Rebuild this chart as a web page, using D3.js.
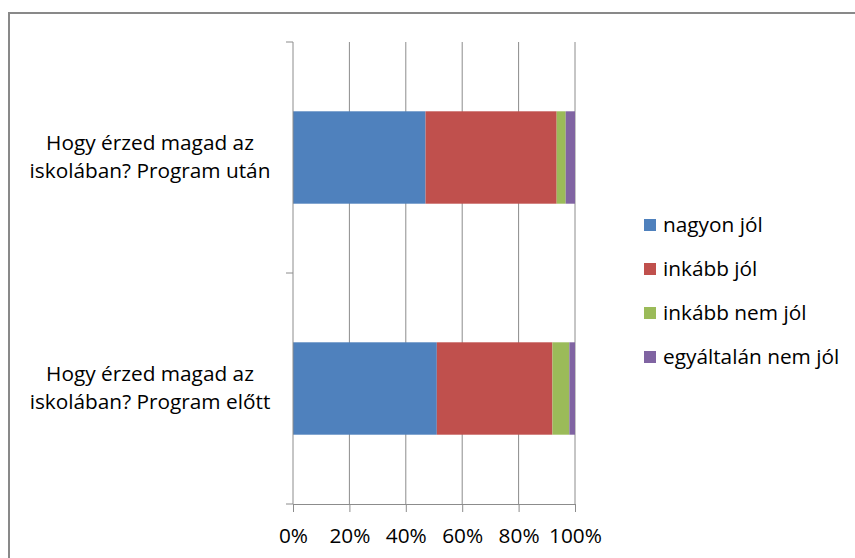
<!DOCTYPE html>
<html>
<head>
<meta charset="utf-8">
<script src="https://cdn.jsdelivr.net/npm/d3@7"></script>
<style>
  body { margin: 0; background: #fff; }
  text { font-family: "Open Sans", Lato, sans-serif; fill: #000; }
</style>
</head>
<body>
<svg id="chart" width="855" height="558"></svg>
<script>
// data (shares, top row first)
const categories = [
  ["Hogy érzed magad az", "iskolában? Program után"],
  ["Hogy érzed magad az", "iskolában? Program előtt"],
];
const seriesNames = ["nagyon jól", "inkább jól", "inkább nem jól", "egyáltalán nem jól"];
const nagyonJol = [0.47, 0.51];
const inkabbJol = [0.465, 0.41];
const inkabbNemJol = [0.032, 0.06];
const egyaltalanNemJol = [0.033, 0.02];
const xTicks = [0, 0.2, 0.4, 0.6, 0.8, 1];
const colors = ["#4F81BD", "#C0504D", "#9BBB59", "#8064A2"];

const svg = d3.select("#chart");
const margin = { top: 42, left: 293, right: 575, bottom: 504 };
const fontSize = 20.8;

// outer frame
svg.append("rect")
  .attr("x", 9).attr("y", 13)
  .attr("width", 900).attr("height", 600)
  .attr("fill", "none")
  .attr("stroke", "#898989")
  .attr("stroke-width", 2);

const x = d3.scaleLinear().domain([0, 1]).range([margin.left, margin.right]);
const y = d3.scaleBand()
  .domain(d3.range(categories.length))
  .range([margin.top, margin.bottom])
  .padding(0);

// grid lines
svg.append("g")
  .selectAll("line")
  .data(xTicks.slice(1))
  .join("line")
  .attr("x1", d => x(d)).attr("x2", d => x(d))
  .attr("y1", margin.top).attr("y2", margin.bottom)
  .attr("stroke", "#8c8c8c")
  .attr("stroke-width", 1);

// stacked bars
const rows = categories.map((c, i) => ({
  i,
  vals: [nagyonJol[i], inkabbJol[i], inkabbNemJol[i], egyaltalanNemJol[i]],
}));
const stack = d3.stack().keys([0, 1, 2, 3]).value((d, k) => d.vals[k]);
const layers = stack(rows);

const bw = y.bandwidth();
svg.append("g")
  .selectAll("g")
  .data(layers)
  .join("g")
  .attr("fill", (d, k) => colors[k])
  .selectAll("rect")
  .data(d => d)
  .join("rect")
  .attr("x", d => x(d[0]))
  .attr("width", d => x(d[1]) - x(d[0]))
  .attr("y", d => y(d.data.i) + bw * 0.3)
  .attr("height", bw * 0.4);

// y axis line and ticks at band edges
const yAxis = svg.append("g");
yAxis.append("line")
  .attr("x1", margin.left).attr("x2", margin.left)
  .attr("y1", margin.top).attr("y2", margin.bottom)
  .attr("stroke", "#8c8c8c");
const edges = d3.range(categories.length + 1).map(i => margin.top + i * y.step());
yAxis.selectAll("line.tick")
  .data(edges)
  .join("line")
  .attr("class", "tick")
  .attr("x1", margin.left - 7).attr("x2", margin.left)
  .attr("y1", d => d).attr("y2", d => d)
  .attr("stroke", "#8c8c8c");

// category labels
svg.append("g")
  .selectAll("text")
  .data(categories)
  .join("text")
  .attr("text-anchor", "middle")
  .attr("font-size", fontSize)
  .attr("y", (d, i) => y(i) + bw / 2)
  .selectAll("tspan")
  .data(d => d)
  .join("tspan")
  .attr("x", 150)
  .attr("dy", (d, j) => j === 0 ? -7.5 : 28)
  .text(d => d);

// x axis
const xAxis = svg.append("g")
  .attr("transform", `translate(0,${margin.bottom})`)
  .call(d3.axisBottom(x)
    .tickValues(xTicks)
    .tickFormat(d3.format(".0%"))
    .tickSize(8)
    .tickSizeOuter(0));
xAxis.select(".domain").attr("stroke", "#8c8c8c");
xAxis.selectAll(".tick line").attr("stroke", "#8c8c8c");
xAxis.selectAll(".tick text")
  .attr("y", 39)
  .attr("dy", 0)
  .attr("font-size", fontSize)
  .attr("font-family", "'Open Sans', sans-serif")
  .attr("fill", "#000");

// legend
const legend = svg.append("g")
  .selectAll("g")
  .data(seriesNames)
  .join("g")
  .attr("transform", (d, i) => `translate(644,${225 + i * 44})`);
legend.append("rect")
  .attr("x", 0).attr("y", -6)
  .attr("width", 12).attr("height", 12)
  .attr("fill", (d, i) => colors[i]);
legend.append("text")
  .attr("x", 19)
  .attr("dy", "0.35em")
  .attr("font-size", fontSize)
  .text(d => d);
</script>
</body>
</html>
